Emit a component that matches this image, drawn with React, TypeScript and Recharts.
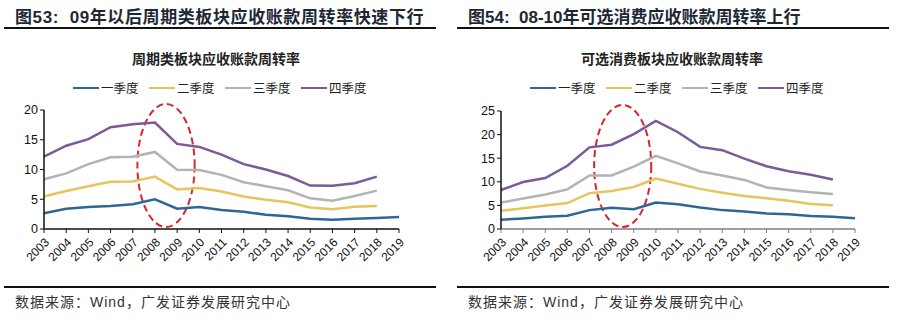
import React from "react";
import { LineChart, Line, XAxis, YAxis, ReferenceArea } from "recharts";

const years = [
  "2003", "2004", "2005", "2006", "2007", "2008", "2009", "2010", "2011",
  "2012", "2013", "2014", "2015", "2016", "2017", "2018", "2019",
];

const seriesNames = ["一季度", "二季度", "三季度", "四季度"];
const seriesColors = ["#2D6797", "#E6C55A", "#B3B3B3", "#7A5B98"];

// 周期类板块
const cycQ1 = [2.65, 3.4, 3.7, 3.85, 4.15, 5.0, 3.4, 3.7, 3.2, 2.9, 2.4, 2.13, 1.73, 1.57, 1.73, 1.85, 2.0];
const cycQ2 = [5.45, 6.4, 7.2, 7.95, 8.0, 8.8, 6.65, 6.9, 6.3, 5.45, 4.9, 4.5, 3.6, 3.3, 3.75, 3.85, null];
const cycQ3 = [8.35, 9.35, 10.9, 12.05, 12.15, 12.95, 9.97, 9.9, 9.1, 7.85, 7.2, 6.5, 5.15, 4.75, 5.55, 6.45, null];
const cycQ4 = [12.15, 14.0, 15.1, 17.1, 17.6, 17.9, 14.3, 13.8, 12.5, 10.9, 10.0, 8.9, 7.3, 7.25, 7.7, 8.8, null];

// 可选消费板块
const conQ1 = [1.95, 2.24, 2.6, 2.8, 4.0, 4.5, 4.2, 5.6, 5.25, 4.55, 4.0, 3.7, 3.3, 3.15, 2.73, 2.6, 2.3];
const conQ2 = [3.85, 4.4, 4.97, 5.5, 7.6, 8.05, 8.9, 10.7, 9.6, 8.5, 7.7, 7.0, 6.5, 6.0, 5.3, 5.04, null];
const conQ3 = [5.6, 6.45, 7.3, 8.4, 11.35, 11.35, 13.2, 15.5, 13.9, 12.2, 11.35, 10.4, 8.8, 8.26, 7.8, 7.4, null];
const conQ4 = [8.26, 9.94, 10.8, 13.4, 17.3, 17.85, 20.1, 22.9, 20.5, 17.4, 16.7, 14.9, 13.3, 12.25, 11.5, 10.5, null];

const cycTicks = [0, 5, 10, 15, 20];
const conTicks = [0, 5, 10, 15, 20, 25];

const build = (s: (number | null)[][]) =>
  years.map((y, i) => ({ year: y, q1: s[0][i], q2: s[1][i], q3: s[2][i], q4: s[3][i] }));

const cycData = build([cycQ1, cycQ2, cycQ3, cycQ4]);
const conData = build([conQ1, conQ2, conQ3, conQ4]);

const cjk = '"Noto Sans CJK SC", "Liberation Sans", sans-serif';
const num = '"Liberation Sans", Arial, sans-serif';

const Ellipse = (p: any) => (
  <ellipse
    cx={p.x + p.width / 2}
    cy={p.y + p.height / 2 - 4}
    rx={p.width * 0.43}
    ry={p.height / 2 + 2}
    fill="none"
    stroke="#D9262C"
    strokeWidth={2}
    strokeDasharray="7 4"
  />
);

function Legend() {
  return (
    <div style={{ position: "absolute", top: 80, left: 0, height: 16 }}>
      {seriesNames.map((n, i) => (
        <div key={n} style={{ position: "absolute", left: i * 76, top: 0, display: "flex", alignItems: "center", whiteSpace: "nowrap" }}>
          <div style={{ width: 26, height: 2.5, background: seriesColors[i], marginRight: 2 }} />
          <span style={{ fontSize: 12.5, fontFamily: cjk, color: "#222", lineHeight: "16px" }}>{n}</span>
        </div>
      ))}
    </div>
  );
}

function Panel(props: {
  left: number;
  header: React.ReactNode;
  headerSpacing: number;
  title: string;
  data: any[];
  ticks: number[];
  yWidth: number;
  marginTop: number;
  marginRight: number;
  xAxisColor: string;
  legendLeft: number;
  titleCenter: number;
}) {
  const top = props.ticks[props.ticks.length - 1];
  return (
    <div style={{ position: "absolute", left: props.left, top: 0, width: 453, height: 325 }}>
      <div style={{ position: "absolute", left: 15, top: 5, fontSize: 17, fontWeight: 700, letterSpacing: props.headerSpacing, fontFamily: cjk, color: "#1d2833", whiteSpace: "nowrap", lineHeight: "21px" }}>
        {props.header}
      </div>
      <div style={{ position: "absolute", left: 4, top: 27, width: 432, height: 1.5, background: "#111" }} />
      <div style={{ position: "absolute", left: props.titleCenter - 120, width: 240, top: 49, textAlign: "center", fontSize: 14, fontWeight: 700, fontFamily: cjk, color: "#222", lineHeight: "19px" }}>
        {props.title}
      </div>
      <div style={{ position: "absolute", left: props.legendLeft, top: 0 }}>
        <Legend />
      </div>
      <div style={{ position: "absolute", left: 0, top: 40 }}>
        <LineChart
          width={440}
          height={240}
          data={props.data}
          margin={{ top: props.marginTop, right: props.marginRight, left: 0, bottom: 6 }}
        >
          <XAxis
            dataKey="year"
            scale="point"
            padding={{ left: 0, right: 0 }}
            interval={0}
            angle={-45}
            textAnchor="end"
            height={45}
            tickSize={4}
            tickMargin={4}
            axisLine={{ stroke: props.xAxisColor, strokeWidth: 1.5 }}
            tickLine={{ stroke: props.xAxisColor }}
            tick={{ fontSize: 12, fontFamily: num, fill: "#111" }}
          />
          <YAxis
            domain={[0, top]}
            ticks={props.ticks}
            width={props.yWidth}
            tickSize={4}
            axisLine={{ stroke: "#111", strokeWidth: 1.5 }}
            tickLine={{ stroke: "#111" }}
            tick={{ fontSize: 12.5, fontFamily: num, fill: "#111" }}
          />
          {["q1", "q2", "q3", "q4"].map((k, i) => (
            <Line
              key={k}
              dataKey={k}
              stroke={seriesColors[i]}
              strokeWidth={2.5}
              dot={false}
              activeDot={false}
              isAnimationActive={false}
            />
          ))}
          <ReferenceArea x1="2007" x2="2010" y1={0} y2={top} ifOverflow="visible" shape={Ellipse} />
        </LineChart>
      </div>
      <div style={{ position: "absolute", left: 4, top: 286, width: 432, height: 1.5, background: "#111" }} />
      <div style={{ position: "absolute", left: 15, top: 292, fontSize: 14, letterSpacing: 1, fontFamily: cjk, color: "#333", whiteSpace: "nowrap", lineHeight: "19px" }}>
        数据来源：<span style={{ fontFamily: num }}>Wind</span>，广发证券发展研究中心
      </div>
    </div>
  );
}

export default function App() {
  return (
    <div style={{ position: "absolute", left: 0, top: 0, width: 906, height: 325, background: "#fff" }}>
      <Panel
        left={0}
        header={<>图<span style={{ fontFamily: num }}>53:&nbsp;&nbsp;09</span>年以后周期类板块应收账款周转率快速下行</>}
        headerSpacing={0.6}
        title="周期类板块应收账款周转率"
        data={cycData}
        ticks={cycTicks}
        yWidth={44}
        marginTop={70}
        marginRight={41}
        xAxisColor="#111"
        legendLeft={73}
        titleCenter={216}
      />
      <Panel
        left={453}
        header={<>图<span style={{ fontFamily: num }}>54:&nbsp;&nbsp;08-10</span>年可选消费应收账款周转率上行</>}
        headerSpacing={0}
        title="可选消费板块应收账款周转率"
        data={conData}
        ticks={conTicks}
        yWidth={48}
        marginTop={71}
        marginRight={38}
        xAxisColor="#7f7f7f"
        legendLeft={77}
        titleCenter={219}
      />
    </div>
  );
}
